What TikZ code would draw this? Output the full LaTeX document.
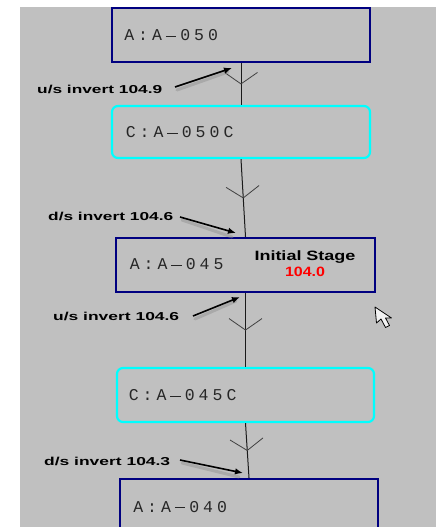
\documentclass[tikz,border=0pt]{standalone}
\usepackage{fontspec}
\usepackage{graphicx}
\setmainfont{Liberation Sans}
\newfontfamily\monof{Liberation Mono}
\usetikzlibrary{arrows.meta,decorations.markings}
\definecolor{bgc}{HTML}{C0C0C0}
\definecolor{navyc}{HTML}{000080}
\definecolor{cyanc}{HTML}{00FFFF}
\definecolor{linec}{HTML}{1A1A1A}
\definecolor{barbc}{HTML}{404040}
\definecolor{shadowc}{HTML}{8E8E8E}
\definecolor{redc}{HTML}{FF0000}
\newcommand\iddash{\rule[3.8pt]{10.5pt}{0.9pt}}
\def\pitchloop#1{\ifx#1\relax\else\makebox[14pt][c]{#1}\expandafter\pitchloop\fi}
\newcommand\pitched[1]{\pitchloop#1\relax}
\newcommand\labtext[2]{\resizebox{#1pt}{\height}{\fontsize{11.5pt}{13pt}\selectfont\bfseries #2}}
\begin{document}
\begin{tikzpicture}[x=1pt,y=-1pt,
  boxA/.style={draw=navyc,line width=2.4pt,inner sep=0pt,minimum height=54pt},
  boxC/.style={draw=cyanc,line width=2.2pt,rounded corners=6pt,inner sep=0pt,minimum height=52pt},
  idtext/.style={inner sep=0pt,anchor=base west,font=\monof\fontsize{16.5pt}{18pt}\selectfont,text=black!85},
  labnode/.style={inner sep=0pt,anchor=base west},
  conn/.style={draw=linec,line width=1pt,postaction={decorate},
    decoration={markings,mark=at position 0.5 with {\draw[barbc,line width=0.8pt] (-11.5pt,16.5pt) -- (0,0) -- (-11.5pt,-16.5pt);}}},
  larrow/.style={-{Latex[length=8pt,width=6.5pt]},line width=1.6pt,black},
  lshadow/.style={draw=shadowc,line width=3pt,opacity=0.45,line cap=round}]
\useasboundingbox (0,0) rectangle (436,527);
\fill[white] (0,0) rectangle (436,527);
\fill[bgc] (20,7) rectangle (436,527);

% boxes
\node[boxA,minimum width=258pt] (a050) at (241,34.75) {};
\node[boxC,minimum width=258pt] (c050) at (241,132) {};
\node[boxA,minimum width=259pt] (a045) at (245.5,265) {};
\node[boxC,minimum width=257pt,minimum height=54pt] (c045) at (245.5,395) {};
\node[boxA,minimum width=258pt] (a040) at (249,506) {};

% connectors
\draw[conn] (a050.south) -- (c050.north);
\draw[conn] (c050.south) -- (a045.north);
\draw[conn] (a045.south) -- (c045.north);
\draw[conn] (c045.south) -- (a040.north);

% box texts
\node[idtext] (ta050) at (122,40.5) {\pitched{A:A\iddash 050}};
\node[idtext] (tc050) at (123.5,137.5) {\pitched{C:A\iddash 050C}};
\node[idtext] (ta045) at (127.5,269.5) {\pitched{A:A\iddash 045}};
\node[idtext] (tc045) at (126.5,400.5) {\pitched{C:A\iddash 045C}};
\node[idtext] (ta040) at (131,512) {\pitched{A:A\iddash 040}};

\node[inner sep=0pt,anchor=base] (stage) at (305,260) {\resizebox{101pt}{\height}{\fontsize{13.5pt}{15pt}\selectfont\bfseries Initial Stage}};
\node[inner sep=0pt,anchor=base,text=redc] (stageval) at (305,276) {\resizebox{40pt}{\height}{\fontsize{13.5pt}{15pt}\selectfont\bfseries 104.0}};

% invert labels
\node[labnode] (l1) at (37,93) {\labtext{125}{u/s invert 104.9}};
\node[labnode] (l2) at (48,220.7) {\labtext{125}{d/s invert 104.6}};
\node[labnode] (l3) at (53,320) {\labtext{126}{u/s invert 104.6}};
\node[labnode] (l4) at (44,465) {\labtext{126}{d/s invert 104.3}};

\coordinate (s1) at (175,87);  \coordinate (e1) at (232,68);
\coordinate (s2) at (180,217); \coordinate (e2) at (236,233);
\coordinate (s3) at (193,316); \coordinate (e3) at (240,297);
\coordinate (s4) at (180,460); \coordinate (e4) at (243,473);

\foreach \i in {1,2,3,4}{
  \draw[lshadow] ([shift={(2,3)}]s\i) -- ([shift={(-4,4)}]e\i);
}
\draw[larrow] (s1) -- (e1);
\draw[larrow] (s2) -- (e2);
\draw[larrow] (s3) -- (e3);
\draw[larrow] (s4) -- (e4);

% mouse pointer
\filldraw[fill=white!80!bgc,draw=black,line width=0.8pt,line join=round]
  (375,307) -- (376.5,323) -- (381,319) -- (385.5,327.5) -- (389.5,325.5) -- (385.5,318) -- (391.5,318) -- cycle;
\end{tikzpicture}
\end{document}
